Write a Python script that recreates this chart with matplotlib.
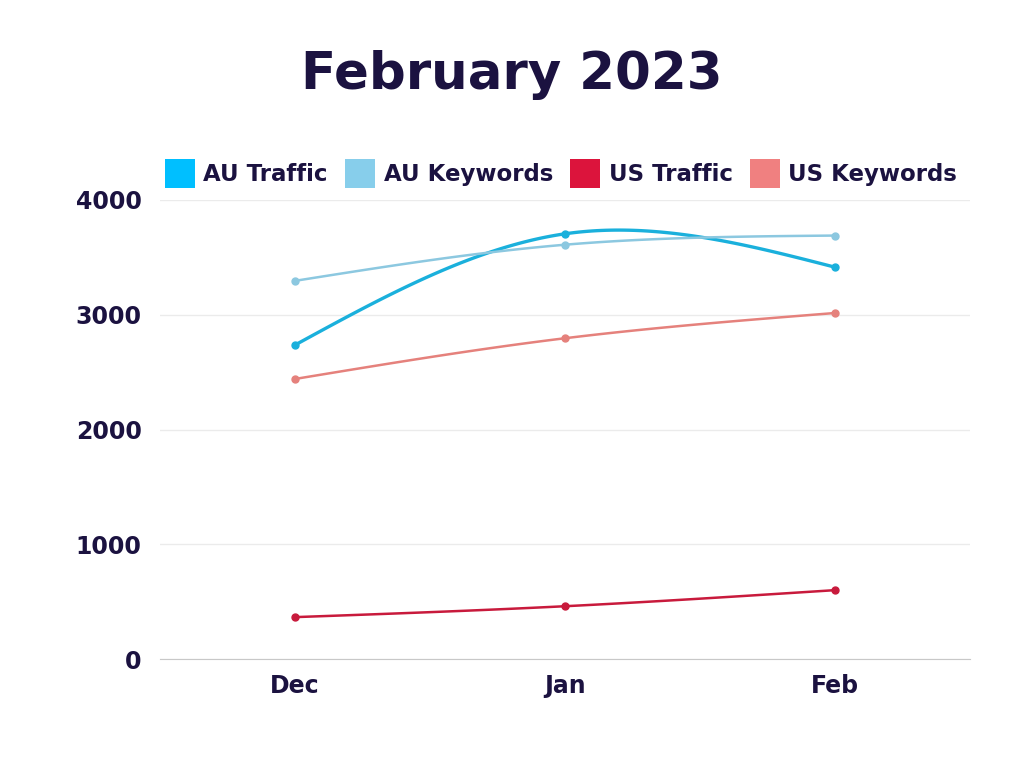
import numpy as np
import matplotlib.pyplot as plt
from matplotlib.patches import Patch

months = ["Dec", "Jan", "Feb"]
au_traffic = [2735, 3705, 3415]
au_keywords = [3295, 3610, 3690]
us_traffic = [365, 460, 600]
us_keywords = [2440, 2795, 3015]

series = [
    ("AU Traffic", au_traffic, "#00bfff", "#1ab0dc", 2.4),
    ("AU Keywords", au_keywords, "#87ceeb", "#8cc8e0", 1.8),
    ("US Traffic", us_traffic, "#dc143c", "#c81a3c", 1.8),
    ("US Keywords", us_keywords, "#f08080", "#e5817c", 1.8),
]

navy = "#1b1240"


def natural_spline(xs, ys, n=60):
    # natural cubic spline through the points
    xs = np.asarray(xs, float)
    ys = np.asarray(ys, float)
    k = len(xs)
    h = np.diff(xs)
    A = np.zeros((k, k))
    r = np.zeros(k)
    A[0, 0] = A[-1, -1] = 1
    for i in range(1, k - 1):
        A[i, i - 1] = h[i - 1]
        A[i, i] = 2 * (h[i - 1] + h[i])
        A[i, i + 1] = h[i]
        r[i] = 6 * ((ys[i + 1] - ys[i]) / h[i] - (ys[i] - ys[i - 1]) / h[i - 1])
    M = np.linalg.solve(A, r)
    outx, outy = [], []
    for i in range(k - 1):
        t = np.linspace(xs[i], xs[i + 1], n)
        a = xs[i + 1] - t
        b = t - xs[i]
        y = (M[i] * a ** 3 + M[i + 1] * b ** 3) / (6 * h[i]) \
            + (ys[i] / h[i] - M[i] * h[i] / 6) * a \
            + (ys[i + 1] / h[i] - M[i + 1] * h[i] / 6) * b
        outx.extend(t)
        outy.extend(y)
    return outx, outy


plt.rcParams['font.family'] = ['DejaVu Sans']

fig = plt.figure(figsize=(10.24, 7.68), dpi=100)
ax = fig.add_axes([0.156, 0.1419, 0.791, 0.5977])

x = np.arange(len(months))
for name, vals, lc, col, lw in series:
    sx, sy = natural_spline(x, vals)
    ax.plot(sx, sy, color=col, lw=lw, zorder=3)
    ax.plot(x, vals, "o", color=col, ms=5, zorder=4)

ax.set_xlim(-0.5, 2.5)
ax.set_ylim(0, 4000)
ax.set_yticks([0, 1000, 2000, 3000, 4000])
ax.set_xticks(x)
ax.set_xticklabels(months)
ax.grid(axis="y", color="#ebebeb", lw=1)
ax.set_axisbelow(True)
for s in ["top", "right", "left"]:
    ax.spines[s].set_visible(False)
ax.spines["bottom"].set_color("#c8c8c8")
ax.tick_params(length=0, colors=navy, labelsize=17)
ax.tick_params(axis="y", pad=13)
ax.tick_params(axis="x", pad=11, labelsize=17)
for lab in ax.get_xticklabels() + ax.get_yticklabels():
    lab.set_fontweight("bold")

fig.text(0.5, 0.902, "February 2023", ha="center", va="center",
         fontsize=37, fontweight="bold", color=navy)

handles = [Patch(facecolor=lc, edgecolor="none", label=name) for name, _, lc, _, _ in series]
leg = fig.legend(handles=handles, loc="center", bbox_to_anchor=(0.548, 0.774), ncol=4,
                 frameon=False, fontsize=16.5, handlelength=1.3, handleheight=1.6,
                 handletextpad=0.38, columnspacing=0.75)
for t in leg.get_texts():
    t.set_color(navy)
    t.set_fontweight("bold")

fig.savefig("out.png", dpi=100, facecolor="white")
